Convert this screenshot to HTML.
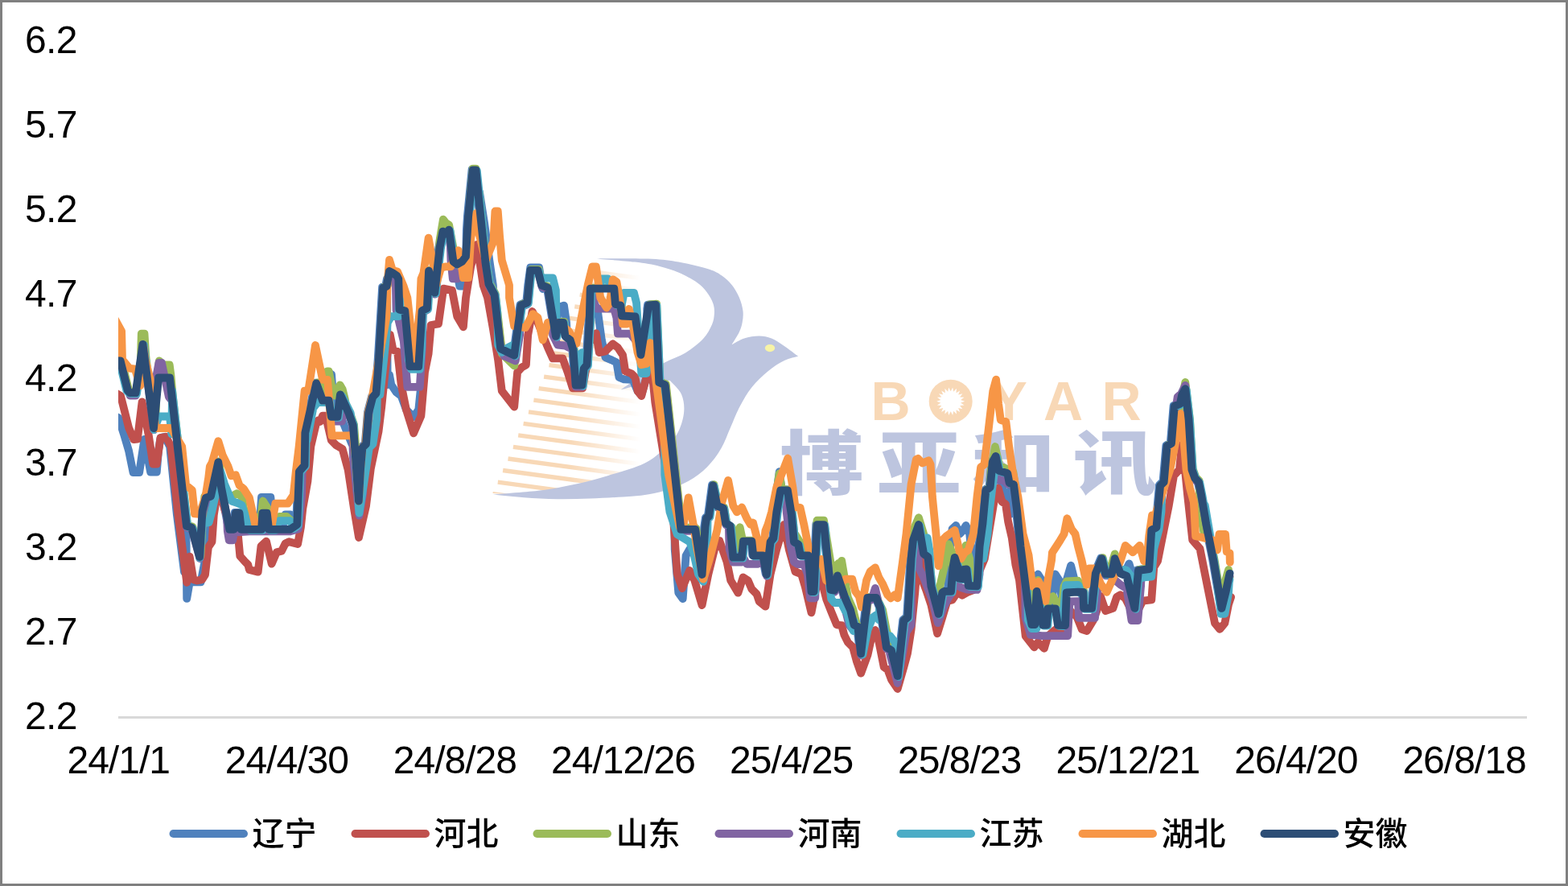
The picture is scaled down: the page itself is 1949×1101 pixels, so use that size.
<!DOCTYPE html>
<html lang="zh-CN">
<head>
<meta charset="utf-8">
<title>鸡蛋价格走势</title>
<style>
html,body{margin:0;padding:0;background:#fff;}
body{width:1949px;height:1101px;overflow:hidden;position:relative;}
#chart{position:absolute;left:0;top:0;width:1949px;height:1101px;box-sizing:border-box;border:3px solid #808080;background:#fff;}
svg{position:absolute;left:0;top:0;}
text{font-family:"Liberation Sans","Noto Sans CJK SC",sans-serif;}
.ax{font-size:48px;fill:#000;}
.ay{letter-spacing:-0.6px;}
.axx{letter-spacing:-1px;}
.lg{font-size:40px;fill:#000;font-weight:500;}
.s{fill:none;stroke-width:9.8px;stroke-linejoin:round;stroke-linecap:round;}
.wm1{font-size:68px;font-weight:700;fill:#f8d8b6;}
.wm2{font-size:87px;font-weight:900;fill:#bdc5df;font-family:"Liberation Sans","Noto Sans CJK SC",sans-serif;}
</style>
</head>
<body>
<div id="chart"></div>
<svg width="1949" height="1101" viewBox="0 0 1949 1101">
<defs><clipPath id="plot"><rect x="147" y="40" width="1752" height="860"/></clipPath><linearGradient id="hg" gradientUnits="userSpaceOnUse" x1="708" y1="0" x2="796" y2="0"><stop offset="0" stop-color="#fff"/><stop offset="1" stop-color="#000"/></linearGradient><mask id="hfade" maskUnits="userSpaceOnUse" x="600" y="300" width="260" height="340"><rect x="600" y="300" width="260" height="340" fill="url(#hg)"/></mask><clipPath id="hclip"><polygon points="600,300 860,300 860,600 800,612 733,616 692,617 651,615 612,613 600,613"/></clipPath></defs>
<g stroke="#f8d8b6" stroke-width="5.3" mask="url(#hfade)" clip-path="url(#hclip)"><line x1="612.4" y1="613.6" x2="797.4" y2="638.6"/><line x1="618.8" y1="599.1" x2="803.8" y2="624.0"/><line x1="625.1" y1="584.5" x2="810.1" y2="609.5"/><line x1="631.5" y1="570.0" x2="816.5" y2="594.9"/><line x1="637.9" y1="555.4" x2="822.9" y2="580.4"/><line x1="644.2" y1="540.9" x2="829.2" y2="565.8"/><line x1="650.6" y1="526.3" x2="835.6" y2="551.3"/><line x1="657.0" y1="511.8" x2="842.0" y2="536.7"/><line x1="663.4" y1="497.2" x2="848.4" y2="522.2"/><line x1="669.7" y1="482.6" x2="854.7" y2="507.6"/><line x1="676.1" y1="468.1" x2="861.1" y2="493.1"/><line x1="682.5" y1="453.6" x2="867.5" y2="478.5"/><line x1="688.8" y1="439.0" x2="873.8" y2="464.0"/><line x1="695.2" y1="424.5" x2="880.2" y2="449.4"/><line x1="701.6" y1="409.9" x2="886.6" y2="434.9"/><line x1="707.9" y1="395.4" x2="892.9" y2="420.3"/><line x1="714.3" y1="380.8" x2="899.3" y2="405.8"/><line x1="720.7" y1="366.2" x2="905.7" y2="391.2"/><line x1="727.1" y1="351.7" x2="912.1" y2="376.7"/><line x1="733.4" y1="337.2" x2="918.4" y2="362.1"/></g>
<path d="M739.5,321.4 C746.2,321.4 766.6,321.1 780.0,321.3 C793.4,321.5 808.2,321.4 820.0,322.4 C831.8,323.3 840.6,324.9 850.9,327.0 C861.2,329.1 874.1,332.1 881.8,334.7 C889.5,337.3 892.6,339.3 897.2,342.5 C901.8,345.7 906.0,349.5 909.6,354.0 C913.2,358.5 916.5,364.1 918.8,369.5 C921.1,374.9 922.9,381.4 923.5,386.5 C924.1,391.6 923.5,396.0 922.7,400.4 C921.9,404.8 921.0,408.1 918.8,412.7 C916.6,417.3 911.1,425.6 909.6,428.2 C912.2,426.9 919.4,422.2 925.0,420.4 C930.6,418.6 937.8,417.4 943.5,417.4 C949.2,417.4 953.9,418.3 959.0,420.4 C964.1,422.4 968.9,426.0 974.4,429.7 C979.9,433.4 989.2,440.6 992.2,442.8 C989.3,443.7 981.2,445.0 975.0,448.1 C968.8,451.2 961.5,455.6 954.7,461.2 C947.9,466.8 940.1,474.2 934.3,481.5 C928.5,488.8 924.2,496.6 919.8,504.8 C915.4,513.0 912.0,522.2 908.1,530.9 C904.2,539.6 901.3,548.9 896.5,557.1 C891.7,565.3 885.9,573.5 879.1,580.3 C872.3,587.1 864.5,592.9 855.8,597.8 C847.1,602.6 836.0,606.5 826.7,609.4 C817.4,612.3 808.7,613.9 800.0,615.2 C791.3,616.5 785.5,616.7 774.4,617.4 C763.3,618.1 747.1,619.1 733.4,619.6 C719.7,620.1 706.1,620.5 692.4,620.3 C678.7,620.1 664.6,619.2 651.3,618.2 C638.0,617.2 619.2,615.2 612.8,614.6 C619.0,614.1 638.5,612.7 650.0,611.6 C661.5,610.5 669.1,610.1 682.1,608.0 C695.1,605.9 714.6,602.0 728.3,598.7 C742.0,595.5 752.2,592.2 764.2,588.5 C776.2,584.8 790.4,580.8 800.0,576.2 C809.6,571.6 815.1,567.1 822.0,561.0 C828.9,554.9 836.6,547.6 841.3,539.7 C846.0,531.8 849.0,521.8 850.0,513.5 C851.0,505.2 850.0,497.0 847.1,490.2 C844.2,483.4 835.0,475.7 832.6,472.8 C827.7,473.4 813.2,474.6 803.0,476.5 C792.8,478.4 776.8,483.1 771.5,484.4 C775.9,481.4 788.6,472.1 797.7,466.5 C806.8,460.9 817.2,455.2 826.2,450.5 C835.2,445.8 844.0,443.4 852.0,438.5 C860.0,433.6 868.5,426.8 874.0,421.0 C879.5,415.2 882.6,408.7 884.9,403.5 C887.2,398.3 887.6,394.0 887.9,389.6 C888.1,385.2 887.9,381.6 886.4,377.2 C884.9,372.8 882.1,367.7 878.7,363.3 C875.4,358.9 872.2,355.1 866.3,351.0 C860.4,346.9 850.9,342.0 843.2,338.6 C835.5,335.2 829.0,333.1 820.0,330.9 C811.0,328.7 802.4,327.2 789.0,325.6 C775.6,324.0 747.8,322.1 739.5,321.4 Z" fill="#bdc5df"/>
<ellipse cx="957" cy="432.6" rx="6.2" ry="4.6" fill="#f7f3a6"/>
<text class="wm1" x="1107.0 1181.7 1254.3 1321.5 1394.0" y="522.4" text-anchor="middle">BOYAR</text>
<circle cx="1181.7" cy="498.7" r="27" fill="#f8d8b6"/>
<polygon points="1199.2,498.7 1194.1,500.5 1198.5,503.6 1193.1,503.9 1196.4,508.2 1191.1,506.9 1193.2,511.9 1188.5,509.2 1189.0,514.6 1185.2,510.7 1184.2,516.0 1181.7,511.2 1179.2,516.0 1178.2,510.7 1174.4,514.6 1174.9,509.2 1170.2,511.9 1172.3,506.9 1167.0,508.2 1170.3,503.9 1164.9,503.6 1169.3,500.5 1164.2,498.7 1169.3,496.9 1164.9,493.8 1170.3,493.5 1167.0,489.2 1172.3,490.5 1170.2,485.5 1174.9,488.2 1174.4,482.8 1178.2,486.7 1179.2,481.4 1181.7,486.2 1184.2,481.4 1185.2,486.7 1189.0,482.8 1188.5,488.2 1193.2,485.5 1191.1,490.5 1196.4,489.2 1193.1,493.5 1198.5,493.8 1194.1,496.9" fill="#fff"/>
<text class="wm2" transform="translate(0 608.3) scale(1.195 1)" x="854.6 956.1 1054.2 1159.4" y="0" text-anchor="middle">博亚和讯</text>
<line x1="147" y1="891.4" x2="1898" y2="891.4" stroke="#d9d9d9" stroke-width="3"/>
<text class="ax ay" x="31" y="66.2">6.2</text>
<text class="ax ay" x="31" y="171.2">5.7</text>
<text class="ax ay" x="31" y="276.2">5.2</text>
<text class="ax ay" x="31" y="381.2">4.7</text>
<text class="ax ay" x="31" y="486.2">4.2</text>
<text class="ax ay" x="31" y="591.2">3.7</text>
<text class="ax ay" x="31" y="696.2">3.2</text>
<text class="ax ay" x="31" y="801.2">2.7</text>
<text class="ax ay" x="31" y="906.2">2.2</text>
<text class="ax axx" x="147.2" y="960.5" text-anchor="middle">24/1/1</text>
<text class="ax axx" x="356.3" y="960.5" text-anchor="middle">24/4/30</text>
<text class="ax axx" x="565.4" y="960.5" text-anchor="middle">24/8/28</text>
<text class="ax axx" x="774.5" y="960.5" text-anchor="middle">24/12/26</text>
<text class="ax axx" x="983.6" y="960.5" text-anchor="middle">25/4/25</text>
<text class="ax axx" x="1192.7" y="960.5" text-anchor="middle">25/8/23</text>
<text class="ax axx" x="1401.8" y="960.5" text-anchor="middle">25/12/21</text>
<text class="ax axx" x="1610.9" y="960.5" text-anchor="middle">26/4/20</text>
<text class="ax axx" x="1820" y="960.5" text-anchor="middle">26/8/18</text>
<g clip-path="url(#plot)">
<polyline class="s" stroke="#4f81bd" points="140.0,515.0 147.3,519.3 153.9,539.4 160.0,560.0 165.5,587.1 173.2,587.1 179.4,545.9 187.1,586.7 194.8,586.7 197.0,560.0 199.4,545.0 200.0,543.7 204.9,542.8 211.1,555.0 219.9,640.0 229.0,710.8 229.8,645.3 230.7,653.0 231.4,653.2 232.2,743.9 235.7,723.4 249.6,723.4 254.3,698.7 258.0,640.0 258.8,616.6 260.8,616.0 270.1,573.5 273.9,605.2 280.9,640.7 284.0,657.0 289.4,657.0 291.7,636.8 296.3,636.8 298.6,657.0 322.2,657.0 323.0,647.6 325.0,617.8 336.4,617.8 338.9,647.6 339.7,657.0 350.8,657.0 351.6,653.8 354.6,639.5 360.8,639.5 363.1,650.7 363.9,654.1 368.1,651.2 370.7,585.1 377.4,577.4 378.1,537.1 392.0,475.6 399.8,496.9 401.7,496.9 402.5,477.6 409.5,463.8 412.1,465.3 414.1,493.1 414.9,517.0 418.3,517.0 421.7,489.5 424.1,494.8 424.9,520.9 431.1,536.3 437.3,551.8 438.1,533.5 440.7,566.4 444.6,621.7 446.9,581.8 449.2,555.6 453.8,551.0 456.9,512.4 462.0,492.7 466.3,488.1 469.7,446.4 475.1,356.7 479.3,355.2 480.9,346.4 481.7,478.1 484.0,465.7 486.3,478.1 492.5,487.4 498.7,492.0 504.9,509.0 514.1,518.2 520.3,509.0 523.4,478.1 524.2,385.0 529.6,382.3 531.8,335.9 539.2,362.9 545.3,307.3 549.2,286.8 553.1,289.5 556.9,284.9 562.3,324.3 567.0,327.8 567.4,327.6 568.2,339.0 571.3,355.7 575.9,355.7 579.0,339.0 579.8,286.1 580.9,268.7 586.6,210.6 590.3,210.6 594.3,250.2 595.2,258.5 596.0,238.6 602.1,277.2 608.3,323.5 612.9,354.4 613.7,369.2 621.0,432.5 638.0,440.7 643.4,400.1 646.5,378.5 654.2,375.4 655.4,363.1 656.2,354.4 659.3,332.3 670.1,332.3 674.7,359.0 675.5,355.0 679.7,356.7 689.7,417.1 690.9,411.9 691.7,400.9 694.8,381.6 701.0,379.6 704.1,400.9 704.9,419.7 707.5,421.7 711.3,434.1 714.4,477.8 722.2,477.8 724.5,457.2 728.3,452.6 731.4,400.1 732.5,357.8 737.8,357.8 738.6,376.3 743.2,388.7 747.9,422.6 752.5,444.3 760.2,447.4 766.4,450.4 769.5,469.0 775.7,471.3 786.5,471.8 792.6,486.0 797.3,490.6 803.5,469.0 804.3,383.5 805.0,378.6 813.8,377.8 818.0,474.4 825.4,477.4 837.9,590.6 838.7,682.6 843.3,736.7 848.7,744.1 852.6,690.4 857.2,682.6 863.4,676.5 869.6,667.2 870.4,706.0 871.4,713.2 875.3,654.1 876.9,643.2 879.9,640.9 885.0,602.3 890.3,627.8 897.7,630.6 900.8,649.4 906.2,652.5 910.1,691.9 920.9,691.9 922.7,671.8 933.2,671.8 935.1,689.6 947.1,689.6 951.7,713.2 956.4,672.6 960.2,668.0 963.0,645.1 963.8,641.0 966.5,602.4 968.7,586.1 970.9,602.4 971.7,608.5 977.7,608.5 982.6,638.6 985.7,672.6 991.1,675.7 993.7,689.3 1003.5,689.6 1007.3,734.4 1010.4,734.4 1014.3,651.3 1022.8,651.3 1031.3,732.0 1035.9,732.8 1039.8,714.6 1049.6,743.2 1055.8,757.1 1060.4,775.7 1065.1,778.0 1068.9,811.7 1074.3,766.4 1077.1,742.0 1087.9,742.0 1092.8,754.1 1097.5,781.8 1100.6,803.5 1106.7,807.3 1114.5,839.3 1119.1,797.3 1122.2,770.3 1127.1,766.4 1129.9,720.1 1131.4,693.6 1133.8,670.5 1140.7,651.2 1146.9,687.4 1152.3,691.3 1156.2,727.8 1165.4,762.1 1170.1,735.5 1172.4,734.0 1178.2,734.0 1179.0,694.4 1183.6,657.4 1188.2,653.0 1192.9,663.5 1196.0,660.4 1200.6,653.0 1205.2,663.5 1208.3,694.4 1209.1,727.3 1213.3,727.5 1214.8,704.6 1216.4,678.2 1220.2,650.4 1224.1,608.7 1229.5,604.8 1232.6,573.2 1236.5,566.2 1240.3,584.0 1243.0,584.8 1243.8,594.0 1247.7,611.0 1250.0,623.4 1256.2,638.8 1257.0,600.6 1258.8,601.3 1262.7,631.8 1267.3,678.2 1276.6,751.0 1281.2,775.4 1284.7,775.4 1285.5,736.3 1290.2,713.5 1294.8,720.9 1299.4,751.8 1300.2,769.7 1301.3,755.6 1307.9,755.6 1308.7,736.3 1311.8,713.5 1316.4,720.9 1319.5,741.0 1325.7,720.9 1331.1,702.7 1335.7,720.9 1340.0,733.2 1340.8,734.8 1345.1,735.0 1345.9,755.1 1355.9,755.1 1360.6,711.8 1368.3,693.3 1372.9,712.6 1380.6,712.6 1384.5,693.3 1391.4,711.8 1396.5,713.9 1397.3,712.6 1403.5,700.3 1408.1,715.7 1411.2,743.5 1412.0,726.9 1413.8,708.0 1427.0,706.4 1430.1,657.8 1436.2,654.7 1440.9,602.8 1445.5,598.2 1449.4,553.4 1454.8,550.3 1458.6,504.0 1465.6,500.9 1467.9,490.1 1472.1,482.4 1476.4,521.0 1480.2,582.7 1484.1,593.5 1488.7,598.2 1491.8,613.6 1498.0,650.1 1507.3,696.4 1517.3,755.1 1522.7,733.5 1527.3,711.8 1528.5,711.8"/>
<polyline class="s" stroke="#c0504d" points="144.6,488.8 150.0,491.9 160.1,531.7 166.3,546.1 170.9,545.6 176.6,499.3 184.8,541.0 190.2,576.5 194.8,576.5 199.5,544.0 206.4,542.8 212.6,555.0 221.4,640.0 232.2,723.8 235.7,691.7 240.4,720.3 245.0,721.5 251.2,720.3 255.0,714.1 258.9,680.1 263.5,673.2 265.8,640.0 268.2,624.5 271.3,601.3 279.0,632.2 286.7,655.4 294.4,666.2 296.0,666.3 298.3,691.0 303.7,697.1 308.3,701.8 309.9,707.9 320.7,710.7 324.5,678.6 331.0,672.7 337.7,700.7 343.8,686.3 350.0,684.8 354.6,675.5 359.3,673.2 370.1,676.0 373.9,655.4 376.3,632.2 382.4,598.2 386.3,555.0 393.2,525.5 395.6,522.4 397.9,524.0 401.0,516.6 404.1,516.6 406.4,524.0 411.8,547.1 417.9,553.3 425.7,557.9 432.7,584.0 440.0,632.0 446.0,668.0 455.0,629.0 460.8,582.6 470.5,536.3 474.3,505.4 478.6,462.6 484.8,415.9 488.6,434.9 494.0,436.7 498.7,478.1 504.9,509.0 514.1,538.3 523.4,516.7 528.0,462.6 532.6,439.5 535.7,404.0 545.0,402.4 551.2,358.6 562.0,360.9 568.2,393.2 575.9,406.3 579.0,370.0 585.2,331.3 592.9,303.8 596.0,323.5 600.6,354.4 606.0,370.0 612.9,408.6 619.1,447.2 623.8,485.8 639.2,505.6 643.1,462.6 648.5,456.5 653.9,453.4 656.2,416.3 661.6,387.0 668.5,400.9 680.9,431.8 687.1,445.4 699.4,445.4 705.6,462.6 711.8,482.4 724.1,482.4 728.8,456.5 733.4,416.3 735.5,422.6 740.9,414.2 744.8,438.1 752.5,436.5 761.8,427.3 767.9,431.9 774.1,441.2 777.2,461.3 784.9,464.3 789.6,469.0 792.6,486.0 797.3,492.1 803.5,469.0 808.1,453.5 811.2,469.0 814.3,500.0 836.4,636.3 841.8,713.5 847.9,731.0 857.2,708.9 863.4,721.3 872.6,752.1 880.4,713.5 888.1,682.6 894.3,671.8 903.5,698.1 908.2,721.3 912.8,729.0 917.4,736.7 923.6,717.4 929.8,721.3 934.4,732.1 940.6,738.2 943.7,747.5 951.4,753.7 957.6,713.5 965.3,682.6 974.6,651.8 980.7,682.6 988.5,710.4 996.2,713.5 1000.8,729.0 1008.5,761.4 1014.7,729.0 1019.3,713.8 1027.1,744.4 1033.2,760.0 1040.0,776.5 1046.2,777.2 1049.3,788.8 1053.9,798.1 1060.1,804.3 1064.7,821.3 1070.1,836.7 1078.6,813.5 1084.0,788.8 1087.9,783.0 1092.5,798.1 1098.7,829.0 1103.3,832.1 1107.9,844.4 1115.7,856.0 1123.4,829.0 1128.0,812.0 1132.6,782.6 1137.3,736.3 1141.9,679.0 1146.5,720.9 1151.2,733.2 1157.4,751.8 1165.1,787.3 1171.3,767.2 1177.4,747.1 1183.6,745.6 1189.8,736.3 1196.0,739.7 1202.1,736.3 1209.9,733.2 1216.0,713.2 1223.8,694.4 1229.9,657.4 1236.1,620.3 1240.7,606.7 1245.4,623.4 1250.0,626.5 1253.1,648.1 1257.7,668.2 1262.4,702.1 1267.0,720.9 1274.7,790.4 1285.5,804.3 1290.2,798.1 1297.9,805.8 1302.5,790.4 1311.8,782.6 1324.1,782.6 1328.8,759.5 1330.9,759.7 1338.6,766.7 1344.8,782.1 1351.0,784.0 1358.7,771.3 1363.3,759.0 1367.9,740.8 1374.1,759.0 1383.4,755.9 1388.0,742.0 1392.6,739.2 1398.8,743.5 1406.5,759.0 1414.3,759.0 1420.4,746.6 1431.3,745.4 1434.3,704.9 1439.0,697.2 1446.7,658.6 1452.9,627.7 1459.0,591.3 1466.0,583.5 1469.1,552.6 1472.9,583.5 1476.0,614.4 1482.2,671.0 1491.5,681.8 1500.7,728.1 1510.0,774.4 1516.2,781.8 1522.4,774.4 1527.0,751.3 1530.1,742.0"/>
<polyline class="s" stroke="#9bbb59" points="140.0,447.3 145.8,447.3 150.8,447.3 160.0,484.4 162.8,487.2 169.8,487.2 173.5,462.1 174.3,471.5 175.8,414.6 179.5,414.6 181.4,443.7 185.6,477.6 190.2,524.0 191.0,522.1 192.2,531.2 193.6,517.0 194.4,477.6 197.9,448.3 203.3,453.3 210.7,453.3 212.3,465.3 214.9,493.1 218.4,524.0 219.2,530.5 233.1,652.8 239.3,654.4 249.3,691.1 252.7,634.3 253.5,631.3 254.3,616.8 256.6,613.7 257.4,617.5 263.2,615.8 272.5,573.3 276.3,605.0 278.2,614.5 279.0,613.7 288.2,616.8 294.4,613.2 300.6,616.8 303.7,635.3 312.9,641.5 319.1,643.0 324.5,641.5 326.8,622.5 333.0,632.2 338.4,650.7 343.8,647.6 346.9,641.8 356.2,641.8 362.4,647.6 363.2,656.1 370.5,651.0 373.1,584.9 379.8,577.2 380.5,536.9 394.4,475.4 400.2,491.2 401.0,471.5 406.4,461.4 408.7,461.4 411.8,477.6 416.4,491.5 420.3,483.8 422.6,478.4 425.7,483.8 428.8,496.2 429.6,501.2 434.6,512.2 440.0,527.6 443.1,566.2 447.0,621.5 449.3,581.6 451.6,555.4 456.2,550.8 459.3,512.2 464.4,492.5 468.7,487.9 472.1,446.2 477.5,356.5 481.7,355.0 485.2,336.0 489.1,338.0 494.5,341.8 496.5,345.7 497.6,383.7 504.5,385.2 510.7,454.4 521.5,454.4 525.8,385.2 532.0,382.1 534.2,335.7 541.6,362.7 545.7,325.1 546.5,298.8 550.9,272.6 554.3,277.2 558.1,279.5 563.5,308.1 564.3,321.2 564.7,324.1 569.4,327.6 575.5,324.1 580.2,317.9 583.3,268.5 583.6,265.3 584.4,246.3 587.8,209.6 591.5,209.6 594.9,243.2 595.7,239.9 596.7,250.0 601.8,299.4 604.9,327.2 608.7,351.9 615.7,365.0 623.0,428.3 623.8,439.5 639.2,454.6 645.4,416.3 646.2,397.3 648.9,378.3 656.6,375.2 660.5,334.9 669.7,334.9 674.4,353.4 682.1,356.5 692.1,416.9 696.0,399.9 701.4,399.9 703.7,416.9 709.9,421.5 713.7,433.9 715.6,460.2 716.4,470.4 721.0,442.6 724.9,450.3 725.7,467.4 726.9,457.0 730.7,452.4 733.8,399.9 734.9,357.6 764.5,357.6 766.1,376.9 772.5,378.4 774.1,391.5 790.8,392.3 797.7,439.9 807.4,378.4 816.2,377.6 820.4,474.2 827.8,477.2 847.1,652.8 847.9,655.6 864.2,655.6 865.0,656.9 865.4,656.9 873.8,713.0 877.7,653.9 879.3,643.0 882.3,640.7 887.4,602.1 892.7,627.6 900.1,630.4 902.7,646.4 903.5,651.8 909.7,654.9 914.3,682.6 916.7,667.2 919.7,655.2 922.8,670.3 923.6,687.7 925.1,671.6 935.6,671.6 937.5,689.4 949.5,689.4 954.1,713.0 958.8,672.4 962.2,668.3 963.0,641.0 966.1,605.4 968.7,588.5 971.5,605.4 972.3,608.3 980.1,608.3 985.0,638.4 987.7,667.4 988.5,664.1 996.2,676.5 1000.8,688.8 1001.6,689.2 1005.9,689.4 1009.7,734.2 1012.8,734.2 1014.7,694.1 1015.5,646.7 1024.0,646.7 1034.8,713.5 1037.9,704.3 1042.5,699.9 1043.3,717.7 1045.4,723.7 1046.2,696.9 1053.9,742.5 1060.1,756.4 1064.7,774.9 1069.3,782.6 1070.1,801.2 1071.3,811.5 1076.7,766.2 1079.5,741.8 1090.2,741.8 1091.0,745.6 1097.1,757.9 1101.8,782.6 1106.4,798.1 1107.2,805.9 1109.1,807.1 1116.9,839.1 1121.5,797.1 1124.6,770.1 1129.5,766.2 1132.3,719.9 1133.8,693.4 1134.9,682.5 1135.7,657.4 1141.9,643.2 1148.1,663.5 1148.9,684.9 1149.3,687.2 1154.7,691.1 1158.6,727.6 1165.8,754.5 1166.6,736.3 1172.8,708.5 1179.0,676.1 1183.6,686.9 1184.4,719.3 1185.6,704.4 1187.9,691.9 1191.8,704.4 1193.3,717.6 1195.2,717.9 1196.0,694.4 1200.6,677.7 1205.2,694.4 1206.0,726.9 1215.7,727.3 1217.2,704.4 1218.8,678.0 1222.6,650.2 1226.5,608.5 1230.7,605.5 1231.5,586.3 1236.9,555.0 1242.3,578.6 1259.3,586.3 1263.9,617.2 1264.7,628.5 1265.1,631.6 1269.7,678.0 1279.0,750.8 1283.6,775.2 1284.7,775.2 1285.5,728.6 1290.2,720.9 1294.8,730.1 1295.6,765.0 1297.5,775.5 1301.7,775.5 1302.5,748.7 1308.7,741.0 1314.9,751.8 1317.9,767.2 1322.6,728.6 1325.7,722.4 1340.0,721.7 1340.9,723.2 1343.2,731.2 1344.0,734.7 1347.5,734.8 1348.3,754.9 1358.3,754.9 1363.0,711.6 1370.7,693.1 1375.3,712.4 1379.5,712.4 1380.3,706.5 1385.7,688.3 1391.1,706.5 1391.9,706.5 1393.8,711.6 1401.6,714.7 1411.6,754.9 1416.2,707.8 1429.4,706.2 1432.5,657.6 1438.6,654.5 1443.3,602.6 1447.9,598.0 1451.8,553.2 1457.2,550.1 1461.0,503.8 1466.0,501.6 1466.8,506.3 1473.3,475.0 1479.1,521.8 1479.9,539.1 1482.6,582.5 1486.5,593.3 1490.7,597.5 1491.5,635.4 1496.1,660.1 1496.9,629.3 1500.4,649.9 1509.7,696.2 1517.7,743.2 1518.5,752.8 1523.9,718.8 1527.0,708.0 1527.8,720.7 1528.5,717.2"/>
<polyline class="s" stroke="#8064a2" points="140.0,450.3 144.9,450.3 149.9,450.3 159.0,486.7 159.8,486.1 161.6,491.5 168.6,491.5 170.1,483.8 170.9,476.4 177.8,429.8 191.3,534.2 191.7,529.7 192.5,477.6 197.4,450.9 201.0,450.9 209.8,493.1 213.5,497.7 214.3,497.7 232.2,655.8 238.4,657.4 248.4,694.1 251.8,637.3 256.1,620.6 262.3,618.8 271.6,576.3 275.4,608.0 282.0,641.8 282.8,660.0 284.7,671.3 289.2,671.3 291.0,661.5 309.9,660.3 360.8,660.3 370.9,657.2 375.0,616.8 375.8,583.7 378.9,580.2 379.6,539.9 393.5,478.4 401.3,499.7 409.0,499.7 412.1,519.8 412.5,519.8 413.3,523.7 424.9,523.7 427.5,502.4 428.3,503.5 433.7,515.2 438.0,527.5 438.8,567.2 446.5,640.6 451.2,613.5 452.0,557.1 455.3,553.8 458.4,515.2 463.5,495.5 467.8,490.9 471.2,449.2 476.6,359.5 480.8,358.0 484.3,339.0 488.2,341.0 491.7,343.5 492.5,385.4 501.8,424.0 506.4,480.9 521.8,480.9 524.9,431.8 525.7,387.8 531.1,385.1 533.3,338.7 540.7,365.7 546.8,310.1 550.7,289.6 554.6,292.3 558.4,287.7 559.6,296.6 560.4,323.5 562.8,346.4 568.2,346.4 571.3,331.3 572.1,328.6 574.6,327.1 579.3,320.9 582.4,271.5 588.1,213.4 591.8,213.4 595.8,253.0 600.9,302.4 604.0,330.2 607.8,354.9 614.8,368.0 622.5,435.3 623.0,435.5 623.8,436.4 626.8,442.6 640.7,448.4 646.1,416.3 646.9,388.6 648.0,381.3 655.7,378.2 659.6,337.9 668.8,337.9 673.5,356.4 681.2,359.5 686.3,390.0 687.1,416.3 693.2,428.7 702.5,429.5 707.1,431.8 707.9,423.7 709.0,424.5 712.8,436.9 715.9,480.6 723.7,480.6 726.0,460.0 729.8,455.4 732.9,402.9 734.0,360.6 737.8,360.6 738.6,376.3 741.7,383.7 763.3,383.7 766.4,394.9 767.9,414.6 783.4,414.6 789.6,422.6 790.4,398.7 796.8,442.9 806.5,381.4 815.3,380.6 819.5,477.2 826.9,480.2 846.7,659.9 864.5,659.9 872.9,716.0 876.8,656.9 878.4,646.0 881.4,643.7 886.5,605.1 891.8,630.6 899.2,633.4 902.3,652.2 905.8,654.2 906.6,682.6 911.3,698.6 922.1,698.6 925.2,695.0 928.2,700.9 942.1,700.9 946.8,698.1 947.6,692.4 948.6,692.4 953.2,716.0 957.9,675.4 961.7,670.8 965.6,638.3 970.5,611.3 976.9,611.3 977.7,636.3 982.3,676.5 986.9,698.1 991.6,701.2 999.3,701.2 1003.9,713.5 1007.0,743.3 1013.2,743.3 1014.7,713.5 1015.5,659.9 1015.8,654.1 1024.3,654.1 1032.8,734.8 1037.4,735.6 1041.3,717.4 1048.5,738.3 1049.3,751.8 1055.4,776.5 1060.1,782.6 1060.9,774.3 1061.9,778.5 1066.6,780.8 1070.4,814.5 1075.8,769.2 1078.6,744.8 1082.4,744.8 1083.2,745.6 1087.9,730.9 1092.5,751.8 1093.3,754.3 1094.3,756.9 1099.0,784.6 1102.1,806.3 1105.6,808.5 1106.4,813.5 1115.7,849.0 1121.8,813.5 1126.5,785.7 1132.6,776.5 1133.4,691.4 1135.3,673.3 1141.1,657.0 1141.9,705.4 1148.1,717.8 1158.9,745.6 1165.8,774.2 1172.8,754.9 1179.0,742.5 1183.6,736.3 1186.7,724.7 1194.4,730.1 1202.1,732.5 1214.5,732.9 1217.6,713.2 1218.4,677.4 1221.7,653.2 1225.6,611.5 1231.0,607.6 1234.1,576.0 1237.6,569.6 1238.4,578.6 1240.7,596.8 1246.9,596.8 1253.1,601.8 1253.9,596.8 1254.9,602.2 1260.3,604.1 1264.2,634.6 1268.8,681.0 1273.9,720.9 1274.7,767.2 1280.9,788.8 1290.2,789.6 1294.8,790.1 1327.2,790.1 1329.5,747.4 1340.0,747.1 1340.9,767.9 1361.0,767.9 1364.9,725.0 1365.7,706.0 1369.8,696.1 1374.4,715.4 1382.1,715.4 1382.6,713.2 1383.4,718.8 1392.6,726.5 1400.4,731.2 1406.5,771.0 1414.3,771.0 1418.1,728.1 1418.9,710.4 1428.5,709.2 1431.6,660.6 1437.7,657.5 1442.4,605.6 1447.0,601.0 1450.9,556.2 1456.3,553.1 1459.8,510.7 1460.6,514.0 1463.7,493.2 1468.3,489.3 1473.3,478.8 1478.4,524.9 1479.2,544.1 1481.7,585.5 1485.6,596.3 1490.2,601.0 1493.3,616.4 1499.5,652.9 1508.8,699.2 1518.8,757.9 1524.2,736.3 1528.5,716.0"/>
<polyline class="s" stroke="#4bacc6" points="140.0,449.3 143.8,449.3 144.6,449.9 148.5,449.1 157.3,485.4 160.8,488.8 161.6,487.8 163.0,489.2 170.0,489.2 178.9,428.8 190.5,518.5 191.3,534.0 197.9,517.5 211.0,517.5 213.3,539.4 214.1,485.6 233.3,654.8 239.5,656.4 247.3,685.1 248.1,693.2 251.5,650.7 259.7,649.2 263.5,635.3 268.2,613.7 271.3,585.9 274.3,585.9 279.0,601.3 288.2,622.9 294.4,624.8 300.6,627.6 306.8,647.6 309.9,656.1 310.7,658.8 326.4,658.8 327.8,638.6 333.2,638.6 335.5,658.8 343.0,658.8 343.8,653.8 346.9,647.2 360.8,647.2 363.9,653.8 364.7,657.1 370.7,653.0 373.3,586.9 380.0,579.2 380.7,538.9 380.9,538.4 381.7,547.1 389.4,507.0 394.8,500.0 408.7,500.0 409.5,498.7 410.1,498.7 413.2,518.8 420.9,518.8 424.3,491.3 424.9,492.6 425.7,493.1 435.7,513.2 436.5,519.0 439.6,527.7 440.4,551.8 446.5,637.5 452.7,598.1 458.9,556.4 463.5,551.8 468.2,520.9 469.0,488.9 471.6,456.3 472.4,490.4 477.1,447.2 481.7,400.9 486.3,393.2 495.6,393.2 496.4,347.1 496.7,347.7 497.8,385.7 504.7,387.2 507.1,414.5 507.9,447.2 511.0,458.8 521.8,458.8 524.2,431.8 525.0,404.2 526.0,387.2 532.2,384.1 534.4,337.7 541.8,364.7 547.9,309.1 551.8,288.6 555.7,291.3 559.5,286.7 564.9,326.1 569.6,329.6 575.7,326.1 580.4,319.9 583.5,270.5 589.2,212.4 592.9,212.4 596.9,252.0 602.0,301.4 605.1,329.2 608.9,353.9 615.9,367.0 618.3,388.2 619.1,428.7 623.8,437.9 631.5,431.8 637.7,428.7 638.5,441.5 640.6,442.5 646.0,401.9 649.1,380.3 656.8,377.2 660.7,336.9 669.9,336.9 670.8,340.4 671.6,346.7 676.3,345.5 687.1,345.5 690.9,360.6 691.7,415.3 692.3,418.9 696.2,401.9 701.6,401.9 703.9,418.9 710.1,423.5 713.1,433.1 713.9,438.1 718.5,456.6 723.2,438.1 724.0,479.6 724.8,479.6 727.1,459.0 730.9,454.4 734.0,401.9 735.1,359.6 745.5,359.6 746.3,354.7 747.9,346.5 755.6,346.5 758.7,357.8 759.5,359.6 764.7,359.6 766.3,378.9 771.8,380.2 772.6,379.4 775.7,364.0 788.0,364.0 791.1,376.3 794.2,422.6 797.3,464.0 803.5,464.0 806.5,438.1 807.3,382.3 807.6,380.4 816.4,379.6 820.6,476.2 825.5,478.2 826.3,590.0 832.5,636.3 841.8,664.1 857.2,673.4 861.8,685.7 868.0,713.5 874.2,722.8 878.8,698.1 879.6,644.9 882.5,642.7 887.6,604.1 892.9,629.6 900.3,632.4 903.4,651.2 908.8,654.3 912.7,693.7 923.5,693.7 925.3,673.6 935.8,673.6 937.7,691.4 949.7,691.4 954.3,715.0 959.0,674.4 962.8,669.8 966.7,637.3 971.6,610.3 980.3,610.3 985.2,640.4 988.3,674.4 993.7,677.5 996.3,691.1 1006.1,691.4 1009.9,736.2 1013.0,736.2 1016.9,653.1 1025.4,653.1 1026.3,661.5 1027.1,698.1 1033.2,744.4 1037.1,749.0 1045.6,749.0 1051.0,759.9 1051.8,743.9 1052.2,745.0 1052.3,745.3 1053.1,762.6 1057.0,776.5 1060.8,784.2 1061.6,772.0 1063.0,777.5 1067.7,779.8 1071.5,813.5 1071.6,812.5 1072.4,813.5 1078.6,782.6 1084.8,767.2 1089.4,764.1 1092.5,770.3 1093.3,750.6 1095.4,755.9 1100.1,783.6 1101.0,789.9 1101.8,788.8 1106.4,790.4 1112.6,798.1 1115.7,829.0 1116.5,838.6 1117.1,841.1 1121.7,799.1 1124.8,772.1 1129.7,768.2 1132.5,721.9 1134.0,695.4 1136.4,672.3 1143.3,653.0 1147.3,676.3 1148.1,679.0 1152.7,668.2 1155.8,686.7 1156.6,709.3 1158.8,729.6 1168.0,763.9 1172.7,737.3 1175.0,735.8 1183.5,735.8 1185.8,706.4 1188.1,693.9 1192.0,706.4 1193.5,719.6 1197.4,720.3 1198.9,708.8 1202.8,708.4 1205.1,728.8 1215.9,729.3 1217.4,706.4 1219.0,680.0 1221.4,662.5 1222.2,694.4 1227.6,663.5 1230.2,632.6 1233.0,609.5 1236.1,586.3 1236.9,571.9 1239.1,568.0 1242.9,585.8 1253.7,589.2 1256.0,601.2 1261.4,603.1 1265.3,633.6 1269.9,680.0 1277.0,735.5 1277.8,770.3 1282.4,781.1 1288.6,781.1 1289.4,746.5 1290.0,735.8 1297.7,777.5 1302.4,777.5 1303.9,757.4 1313.2,757.4 1316.3,777.8 1321.8,778.1 1322.6,751.8 1324.9,727.1 1340.0,726.8 1340.9,728.1 1343.2,737.4 1344.0,736.7 1347.7,736.8 1348.5,756.9 1358.5,756.9 1363.2,713.6 1370.9,695.1 1375.5,714.4 1383.2,714.4 1387.1,695.1 1391.8,707.8 1392.6,706.5 1400.4,708.8 1408.1,718.8 1408.9,745.2 1411.8,756.9 1416.4,709.8 1416.6,709.8 1417.4,718.8 1422.0,717.3 1431.3,716.5 1434.3,681.8 1440.5,658.6 1443.6,635.4 1444.4,603.7 1448.1,600.0 1452.0,555.2 1457.4,552.1 1461.2,505.8 1468.2,502.7 1470.5,491.9 1474.7,484.2 1479.0,522.8 1482.8,584.5 1486.7,595.3 1491.3,600.0 1494.4,615.4 1496.9,629.8 1497.7,627.7 1503.8,663.2 1511.6,712.6 1517.7,762.8 1522.4,762.8 1527.0,737.4 1527.8,723.7 1528.5,720.2"/>
<polyline class="s" stroke="#f79646" points="142.9,396.6 151.1,411.6 152.0,446.8 160.8,457.6 167.8,458.5 174.3,479.2 178.3,431.3 180.5,446.8 186.3,469.9 189.7,496.2 193.3,532.0 212.6,532.0 226.2,555.0 231.1,602.9 238.8,609.0 241.9,638.4 248.1,638.8 255.5,616.8 259.2,593.6 260.8,579.7 263.5,575.1 271.3,548.1 276.7,565.8 283.6,579.7 287.5,591.3 292.9,590.2 297.5,602.9 302.9,607.5 309.9,618.3 313.7,635.3 317.6,653.8 337.7,653.8 342.3,625.7 357.7,625.7 364.7,615.2 367.8,585.9 371.6,555.0 378.6,485.7 383.2,485.7 392.0,429.0 401.0,471.8 407.1,471.8 412.5,541.3 431.8,541.3 438.8,541.0 441.9,567.2 445.8,622.5 448.1,582.6 450.4,556.4 454.3,551.8 457.4,513.2 463.2,490.4 470.9,447.2 480.5,393.2 481.4,354.4 484.0,322.8 487.9,335.9 494.0,337.4 497.9,346.7 501.8,356.0 506.4,370.0 514.9,447.2 521.8,385.4 523.4,346.7 526.5,339.0 532.6,295.7 538.8,331.3 541.9,354.4 548.1,332.8 554.3,331.3 560.4,331.3 569.7,311.2 572.8,323.5 575.9,345.2 582.1,345.2 585.2,295.7 592.1,264.9 596.0,292.6 603.7,323.5 613.3,300.4 615.4,262.5 618.8,262.5 621.0,292.6 623.8,323.5 633.0,354.4 633.0,370.0 639.2,405.5 653.1,407.1 662.4,390.1 668.5,394.7 674.7,422.5 680.9,400.9 694.8,400.9 707.1,411.7 716.4,427.1 723.2,391.8 730.9,353.2 736.3,331.5 740.9,331.5 746.3,370.1 754.0,382.5 757.9,376.3 761.8,347.3 766.4,350.1 771.0,376.3 774.1,402.6 778.8,402.6 781.8,384.0 786.5,402.6 792.6,438.1 797.3,453.2 803.5,452.0 808.1,426.0 812.7,453.5 818.9,500.0 831.0,590.0 844.9,654.9 849.5,651.8 855.7,618.3 861.8,651.8 866.5,682.6 874.2,719.7 881.9,695.0 891.2,659.5 897.4,624.0 905.1,596.9 911.3,628.6 915.9,636.3 922.1,630.5 928.2,644.0 932.9,651.8 936.0,649.5 940.6,667.2 943.7,688.8 947.5,691.9 951.4,659.5 954.5,651.8 959.1,636.3 965.3,605.4 979.2,569.5 985.4,605.4 988.5,630.1 994.6,630.9 999.3,651.8 1005.4,682.6 1011.6,698.1 1020.9,695.0 1027.1,721.3 1039.4,729.0 1050.8,719.6 1059.3,719.6 1063.2,734.8 1067.8,741.0 1070.9,754.5 1077.1,720.9 1081.7,710.1 1087.9,705.4 1092.5,717.8 1097.1,725.5 1103.3,739.4 1107.2,743.3 1111.8,739.4 1115.7,743.3 1118.8,720.9 1121.8,699.3 1126.5,663.5 1132.6,601.8 1138.8,570.9 1141.1,569.8 1146.5,575.5 1154.3,572.4 1156.6,577.1 1158.9,617.2 1163.5,663.5 1166.6,703.4 1171.3,671.3 1175.9,666.6 1186.7,658.9 1191.3,679.0 1194.4,694.4 1199.0,686.7 1203.7,683.6 1209.9,663.5 1214.5,617.2 1219.1,580.5 1223.4,577.4 1228.8,532.6 1234.2,486.3 1238.1,471.7 1241.1,501.8 1243.8,521.8 1250.4,524.2 1254.3,555.8 1258.9,586.7 1265.4,617.2 1271.6,663.5 1278.6,690.0 1283.2,728.6 1287.1,725.5 1290.9,722.7 1294.8,730.1 1299.4,747.1 1302.5,720.9 1307.1,696.2 1307.9,686.7 1312.5,679.7 1317.9,671.3 1322.6,663.5 1326.4,644.2 1331.8,657.4 1336.5,663.5 1340.0,679.0 1344.8,697.2 1347.9,712.6 1351.0,726.5 1354.0,706.5 1360.2,706.5 1367.9,725.0 1375.7,735.8 1383.4,718.8 1392.6,697.2 1398.8,677.9 1408.1,686.4 1416.6,677.9 1422.0,697.2 1426.6,684.9 1428.2,666.3 1432.0,640.4 1435.9,640.1 1454.4,583.5 1460.6,552.6 1467.5,514.0 1471.4,546.5 1474.5,583.5 1479.1,606.7 1483.8,623.7 1484.5,635.4 1486.1,666.3 1494.6,667.9 1506.9,671.0 1513.1,683.3 1515.4,664.0 1523.1,664.0 1524.7,685.6 1528.5,687.2 1528.8,698.8"/>
<polyline class="s" stroke="#2c4d75" points="144.6,448.3 149.6,448.3 158.8,485.4 161.6,488.2 168.6,488.2 177.5,427.8 191.0,532.2 197.1,469.5 211.0,469.5 231.9,653.8 238.1,655.4 248.1,692.1 251.5,635.3 255.8,618.6 262.0,616.8 271.3,574.3 275.1,606.0 282.1,641.5 285.2,657.8 290.6,657.8 292.9,637.6 297.5,637.6 299.8,657.8 325.0,657.8 326.4,637.6 331.8,637.6 334.1,657.8 360.8,657.8 369.3,652.0 371.9,585.9 378.6,578.2 379.3,537.9 393.2,476.4 401.0,497.7 408.7,497.7 411.8,517.8 419.5,517.8 422.9,490.3 433.4,513.2 438.8,528.6 441.9,567.2 445.8,622.5 448.1,582.6 450.4,556.4 455.0,551.8 458.1,513.2 463.2,493.5 467.5,488.9 470.9,447.2 476.3,357.5 480.5,356.0 484.0,337.0 487.9,339.0 493.3,342.8 495.3,346.7 496.4,384.7 503.3,386.2 509.5,455.4 520.3,455.4 524.6,386.2 530.8,383.1 533.0,336.7 540.4,363.7 546.5,308.1 550.4,287.6 554.3,290.3 558.1,285.7 563.5,325.1 568.2,328.6 574.3,325.1 579.0,318.9 582.1,269.5 587.8,211.4 591.5,211.4 595.5,251.0 600.6,300.4 603.7,328.2 607.5,352.9 614.5,366.0 622.2,433.3 639.2,441.5 644.6,400.9 647.7,379.3 655.4,376.2 659.3,335.9 668.5,335.9 673.2,354.4 680.9,357.5 690.9,417.9 694.8,400.9 700.2,400.9 702.5,417.9 708.7,422.5 712.5,434.9 715.6,478.6 723.4,478.6 725.7,458.0 729.5,453.4 732.6,400.9 733.7,358.6 763.3,358.6 764.9,377.9 771.3,379.4 772.9,392.5 789.6,393.3 796.5,440.9 806.2,379.4 815.0,378.6 819.2,475.2 826.6,478.2 846.4,657.9 864.2,657.9 872.6,714.0 876.5,654.9 878.1,644.0 881.1,641.7 886.2,603.1 891.5,628.6 898.9,631.4 902.0,650.2 907.4,653.3 911.3,692.7 922.1,692.7 923.9,672.6 934.4,672.6 936.3,690.4 948.3,690.4 952.9,714.0 957.6,673.4 961.4,668.8 965.3,636.3 970.2,609.3 978.9,609.3 983.8,639.4 986.9,673.4 992.3,676.5 994.9,690.1 1004.7,690.4 1008.5,735.2 1011.6,735.2 1015.5,652.1 1024.0,652.1 1032.5,732.8 1037.1,733.6 1041.0,715.4 1050.8,744.0 1057.0,757.9 1061.6,776.5 1066.3,778.8 1070.1,812.5 1075.5,767.2 1078.3,742.8 1089.1,742.8 1094.0,754.9 1098.7,782.6 1101.8,804.3 1107.9,808.1 1115.7,840.1 1120.3,798.1 1123.4,771.1 1128.3,767.2 1131.1,720.9 1132.6,694.4 1135.0,671.3 1141.9,652.0 1148.1,688.2 1153.5,692.1 1157.4,728.6 1166.6,762.9 1171.3,736.3 1173.6,734.8 1182.1,734.8 1184.4,705.4 1186.7,692.9 1190.6,705.4 1192.1,718.6 1196.0,719.3 1197.5,707.8 1201.4,707.4 1203.7,727.8 1214.5,728.3 1216.0,705.4 1217.6,679.0 1221.4,651.2 1225.3,609.5 1230.7,605.6 1233.8,574.0 1237.7,567.0 1241.5,584.8 1252.3,588.2 1254.6,600.2 1260.0,602.1 1263.9,632.6 1268.5,679.0 1277.8,751.8 1282.4,776.2 1286.3,776.2 1288.6,734.8 1296.3,776.5 1301.0,776.5 1302.5,756.4 1311.8,756.4 1314.9,776.8 1324.1,777.2 1325.7,736.3 1340.0,735.6 1346.3,735.8 1347.1,755.9 1357.1,755.9 1361.8,712.6 1369.5,694.1 1374.1,713.4 1381.8,713.4 1385.7,694.1 1392.6,712.6 1400.4,715.7 1410.4,755.9 1415.0,708.8 1428.2,707.2 1431.3,658.6 1437.4,655.5 1442.1,603.6 1446.7,599.0 1450.6,554.2 1456.0,551.1 1459.8,504.8 1466.8,501.7 1469.1,490.9 1473.3,483.2 1477.6,521.8 1481.4,583.5 1485.3,594.3 1489.9,599.0 1493.0,614.4 1499.2,650.9 1508.5,697.2 1518.5,755.9 1523.9,734.3 1528.5,712.6"/>
</g>
<line x1="215.6" y1="1036" x2="302.9" y2="1036" stroke="#4f81bd" stroke-width="10.2" stroke-linecap="round"/>
<text class="lg" x="313.5" y="1050">辽宁</text>
<line x1="441.6" y1="1036" x2="528.9" y2="1036" stroke="#c0504d" stroke-width="10.2" stroke-linecap="round"/>
<text class="lg" x="539.5" y="1050">河北</text>
<line x1="667.6" y1="1036" x2="754.9" y2="1036" stroke="#9bbb59" stroke-width="10.2" stroke-linecap="round"/>
<text class="lg" x="765.5" y="1050">山东</text>
<line x1="893.6" y1="1036" x2="980.9" y2="1036" stroke="#8064a2" stroke-width="10.2" stroke-linecap="round"/>
<text class="lg" x="991.5" y="1050">河南</text>
<line x1="1119.6" y1="1036" x2="1206.9" y2="1036" stroke="#4bacc6" stroke-width="10.2" stroke-linecap="round"/>
<text class="lg" x="1217.5" y="1050">江苏</text>
<line x1="1345.6" y1="1036" x2="1432.9" y2="1036" stroke="#f79646" stroke-width="10.2" stroke-linecap="round"/>
<text class="lg" x="1443.5" y="1050">湖北</text>
<line x1="1571.6" y1="1036" x2="1658.9" y2="1036" stroke="#2c4d75" stroke-width="10.2" stroke-linecap="round"/>
<text class="lg" x="1669.5" y="1050">安徽</text>
</svg>
</body>
</html>
